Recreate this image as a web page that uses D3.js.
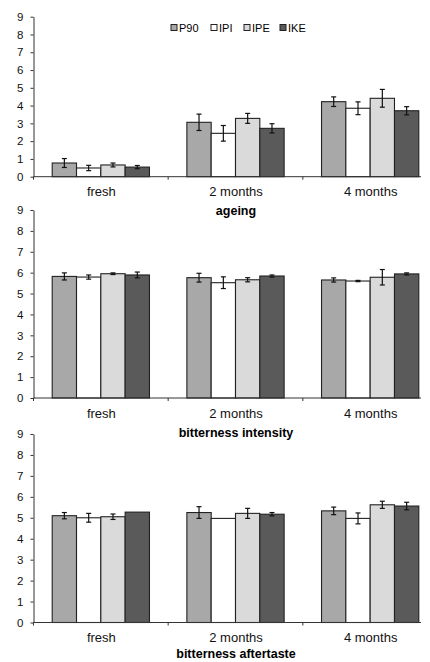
<!DOCTYPE html>
<html>
<head>
<meta charset="utf-8">
<script src="https://cdn.jsdelivr.net/npm/d3@7"></script>
<style>
  body { margin: 0; background: #fff; }
  svg { display: block; font-family: "Liberation Sans", Arial, sans-serif; }
  .axis path, .axis line { stroke: #333; stroke-width: 1; }
  .axis text { fill: #111; }
</style>
</head>
<body>
<div></div>
<script>
// categories and series
var categories = ["fresh", "2 months", "4 months"];
var series = ["P90", "IPI", "IPE", "IKE"];
var yTicks = [0, 1, 2, 3, 4, 5, 6, 7, 8, 9];

// ageing: mean and error per category, one row per series
var ageingP90 = [0.77, 3.06, 4.22], ageingP90Err = [0.25, 0.46, 0.27];
var ageingIPI = [0.49, 2.44, 3.85], ageingIPIErr = [0.15, 0.44, 0.36];
var ageingIPE = [0.66, 3.28, 4.41], ageingIPEErr = [0.11, 0.28, 0.50];
var ageingIKE = [0.54, 2.72, 3.71], ageingIKEErr = [0.09, 0.26, 0.23];

// bitterness intensity
var intensP90 = [5.82, 5.76, 5.65], intensP90Err = [0.17, 0.21, 0.10];
var intensIPI = [5.79, 5.52, 5.60], intensIPIErr = [0.10, 0.28, 0.03];
var intensIPE = [5.95, 5.66, 5.78], intensIPEErr = [0.04, 0.10, 0.37];
var intensIKE = [5.89, 5.84, 5.94], intensIKEErr = [0.14, 0.05, 0.05];

// bitterness aftertaste
var afterP90 = [5.10, 5.25, 5.33], afterP90Err = [0.15, 0.28, 0.18];
var afterIPI = [5.00, 4.97, 4.97], afterIPIErr = [0.21, 0.00, 0.26];
var afterIPE = [5.05, 5.21, 5.62], afterIPEErr = [0.13, 0.24, 0.17];
var afterIKE = [5.27, 5.17, 5.56], afterIKEErr = [0.00, 0.08, 0.18];

var colors = {"P90": "#a8a8a8", "IPI": "#ffffff", "IPE": "#dadada", "IKE": "#5a5a5a"};

var width = 430, height = 662;

var svg = d3.select("body").select("div").append("svg")
    .attr("width", width)
    .attr("height", height);

// set the ranges (shared x layout)
var x0 = d3.scaleBand().domain(categories).range([33.5, 437.5]);
var x1 = d3.scaleBand().domain(series).range([18.7, x0.bandwidth() - 18.7]);

function drawPanel(title, vals, errs, y0, y9, titleDy, legend) {
  var y = d3.scaleLinear().domain([0, 9]).range([y0, y9]);
  var g = svg.append("g");

  // y axis
  g.append("g")
    .attr("class", "axis")
    .attr("transform", "translate(33.5,0)")
    .call(d3.axisLeft(y).tickValues(yTicks).tickSize(3).tickPadding(7).tickSizeOuter(0))
    .selectAll("text").style("font-size", "11.5px");

  // bars
  series.forEach(function(s, i) {
    var data = categories.map(function(c, j) {
      return {cat: c, value: vals[i][j], err: errs[i][j]};
    });
    var sg = g.append("g");
    sg.selectAll("rect")
      .data(data)
      .enter().append("rect")
      .attr("x", function(d) { return x0(d.cat) + x1(s); })
      .attr("y", function(d) { return y(d.value); })
      .attr("width", x1.bandwidth())
      .attr("height", function(d) { return y0 - y(d.value); })
      .attr("fill", colors[s])
      .attr("stroke", "#222")
      .attr("stroke-width", 1.1);

    // error bars
    var eb = sg.selectAll(".err")
      .data(data.filter(function(d) { return d.err > 0; }))
      .enter().append("g")
      .attr("transform", function(d) { return "translate(" + (x0(d.cat) + x1(s) + x1.bandwidth() / 2) + ",0)"; });
    eb.append("line")
      .attr("y1", function(d) { return y(d.value + d.err); })
      .attr("y2", function(d) { return y(d.value - d.err); })
      .attr("stroke", "#111").attr("stroke-width", 1.2);
    eb.append("line")
      .attr("x1", -2.5).attr("x2", 2.5)
      .attr("y1", function(d) { return y(d.value + d.err); })
      .attr("y2", function(d) { return y(d.value + d.err); })
      .attr("stroke", "#111").attr("stroke-width", 1.2);
    eb.append("line")
      .attr("x1", -2.5).attr("x2", 2.5)
      .attr("y1", function(d) { return y(d.value - d.err); })
      .attr("y2", function(d) { return y(d.value - d.err); })
      .attr("stroke", "#111").attr("stroke-width", 1.2);
  });

  // x axis: ticks at the band boundaries
  var xa = g.append("g")
    .attr("class", "axis")
    .attr("transform", "translate(0," + y0 + ")");
  xa.append("line")
    .attr("x1", 33.5).attr("x2", 421).attr("stroke", "#333");
  xa.selectAll(".tk")
    .data(categories)
    .enter().append("line")
    .attr("x1", function(d) { return x0(d); })
    .attr("x2", function(d) { return x0(d); })
    .attr("y1", 0).attr("y2", 3)
    .attr("stroke", "#333");
  xa.selectAll("text")
    .data(categories)
    .enter().append("text")
    .attr("x", function(d) { return x0(d) + x0.bandwidth() / 2 + 0.5; })
    .attr("y", 19.5)
    .attr("text-anchor", "middle")
    .style("font-size", "13px")
    .text(function(d) { return d; });

  // panel title under the axis
  g.append("text")
    .attr("x", 236)
    .attr("y", y0 + titleDy)
    .attr("text-anchor", "middle")
    .style("font-size", "12.5px")
    .style("font-weight", "bold")
    .text(title);

  if (legend) {
    var lx = [171, 211, 244, 280];
    var lg = g.append("g");
    series.forEach(function(s, i) {
      lg.append("rect")
        .attr("x", lx[i]).attr("y", 24.5)
        .attr("width", 6).attr("height", 6)
        .attr("fill", colors[s])
        .attr("stroke", "#222").attr("stroke-width", 1);
      lg.append("text")
        .attr("x", lx[i] + 8).attr("y", 32)
        .style("font-size", "11px")
        .text(s);
    });
  }
}

drawPanel("ageing",
  [ageingP90, ageingIPI, ageingIPE, ageingIKE],
  [ageingP90Err, ageingIPIErr, ageingIPEErr, ageingIKEErr],
  176.7, 16.7, 38.5, true);

drawPanel("bitterness intensity",
  [intensP90, intensIPI, intensIPE, intensIKE],
  [intensP90Err, intensIPIErr, intensIPEErr, intensIKEErr],
  398, 210, 38.5, false);

drawPanel("bitterness aftertaste",
  [afterP90, afterIPI, afterIPE, afterIKE],
  [afterP90Err, afterIPIErr, afterIPEErr, afterIKEErr],
  622.5, 434, 35.5, false);
</script>
</body>
</html>
